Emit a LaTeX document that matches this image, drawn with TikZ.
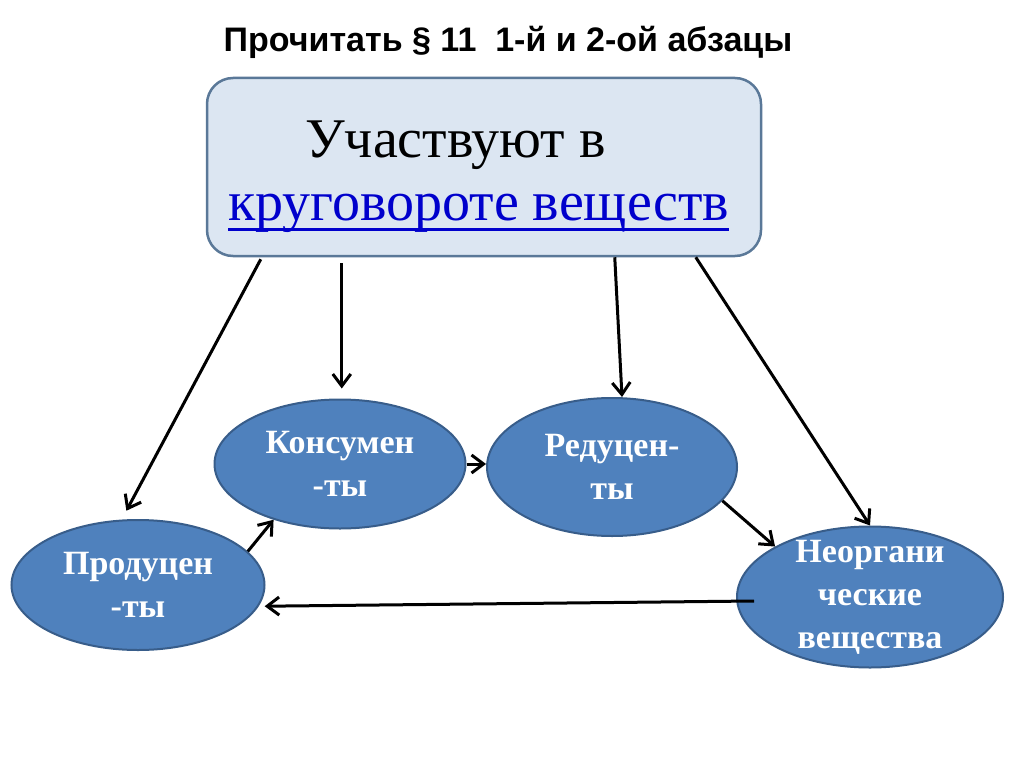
\documentclass[tikz,border=0pt]{standalone}
\usepackage{fontspec}
\setmainfont{Liberation Serif}
\newfontfamily\headfont{Liberation Sans}
\usetikzlibrary{shapes.geometric,arrows.meta}
\definecolor{cyclefill}{RGB}{220, 230, 242}
\definecolor{cycledraw}{RGB}{90, 120, 152}
\definecolor{groupfill}{RGB}{79, 129, 189}
\definecolor{groupdraw}{RGB}{56, 93, 138}
\definecolor{linkblue}{RGB}{0, 0, 204}
\tikzstyle{group} = [
  ellipse,
  fill=groupfill,
  draw=groupdraw,
  line width=2pt,
  inner sep=0pt,
  text=white,
  align=center,
  font=\fontsize{34}{43}\selectfont\bfseries,
]
\tikzstyle{flow} = [
  line width=3pt,
  -{Straight Barb[length=12pt,width=18pt,line width=3pt]},
]

\begin{document}
\begin{tikzpicture}[x=1pt, y=-1pt]
            \useasboundingbox (0,0) rectangle (1024,767);

            % Title
            \node[font=\headfont\bfseries\fontsize{34}{38}\selectfont] (title) at (508,42)
                {Прочитать § 11\ \ 1-й и 2-ой абзацы};

            % Main box
            \node[draw=cycledraw, fill=cyclefill, line width=2.5pt, rounded corners=26pt,
                  minimum width=554pt, minimum height=178pt] (cycle) at (484,167) {};
            \node[font=\fontsize{56}{60}\selectfont, anchor=base west, inner sep=0pt]
                (part) at (305,158) {Участвуют в};
            \node[font=\fontsize{56}{60}\selectfont, text=linkblue, anchor=base west, inner sep=0pt]
                (link) at (228,221) {круговороте веществ};
            \draw[linkblue, line width=3pt] ([yshift=-9pt]link.base west) -- ([yshift=-9pt]link.base east);

            % Groups
            \node[group, minimum width=251pt, minimum height=129pt] (kons) at (340,464)
                {Консумен\\-ты};
            \node[group, minimum width=250pt, minimum height=138pt] (red) at (612,467)
                {Редуцен-\\ты};
            \node[group, minimum width=253pt, minimum height=130pt] (prod) at (138,585)
                {Продуцен\\-ты};
            \node[group, inner ysep=-15pt, minimum width=266pt, minimum height=141pt] (neorg) at (870,597)
                {Неоргани\\ческие\\вещества};

            % Arrows from the box
            \coordinate (c1) at ([xshift=55pt, yshift=-2pt]cycle.south west);
            \coordinate (c2) at ([xshift=136pt]cycle.south west);
            \coordinate (c3) at ([xshift=409pt]cycle.south west);
            \coordinate (c4) at ([xshift=490pt]cycle.south west);
            \draw[flow, shorten >=10pt] (c1) -- (prod.104);
            \draw[flow, shorten <=6pt, shorten >=10pt] (c2) -- (c2 |- kons.north);
            \draw[flow] (c3) -- ([xshift=10pt]red.north);
            \draw[flow] (c4) -- (neorg.north);

            % Arrows between groups
            \draw[flow] (kons.east) -- (kons.east -| red.west);
            \draw[flow] (red.-17) -- (neorg.152);
            \draw[flow] (prod.17) -- (kons.-140);
            \draw[flow, shorten >=6pt] ([xshift=18pt, yshift=-4pt]neorg.west) -- (prod.-10);
          \end{tikzpicture}
\end{document}
